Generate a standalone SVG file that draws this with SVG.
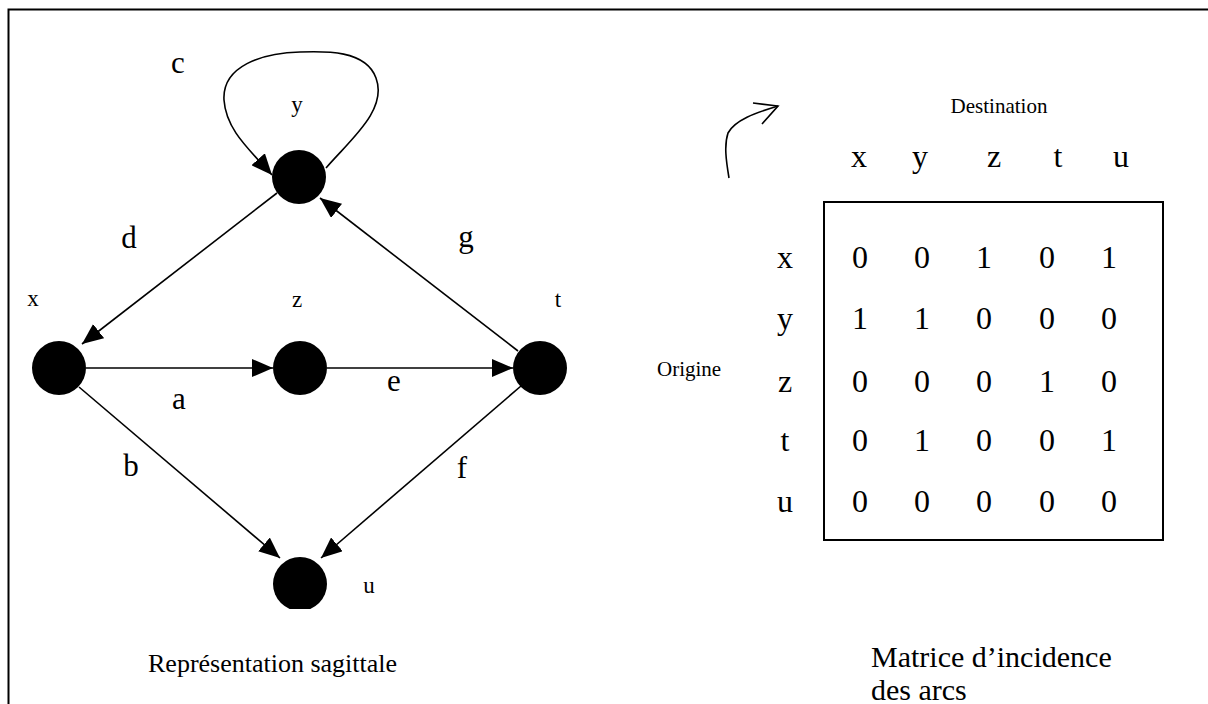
<svg xmlns="http://www.w3.org/2000/svg" width="1208" height="704" viewBox="0 0 1208 704">
<style>
text{font-family:"Liberation Serif","Times New Roman",serif;fill:#000}
.lbl{font-size:31px}
.nl{font-size:23px}
.sm{font-size:21px}
.mx{font-size:32px}
.edge{stroke:#000;stroke-width:1.6;fill:none}
.node{fill:#000}
</style>
<defs>
<marker id="ah" viewBox="0 0 21 18" refX="21" refY="9" markerWidth="21" markerHeight="18" markerUnits="userSpaceOnUse" orient="auto">
<path d="M0,0 L21,9 L0,18 z" fill="#000"/>
</marker>
<clipPath id="clipu"><rect x="0" y="0" width="1208" height="609"/></clipPath>
</defs>
<rect x="8.5" y="9.5" width="1220" height="720" fill="#fff" stroke="#000" stroke-width="2"/>
<g id="connectors">
<line class="edge" x1="277" y1="193" x2="82" y2="344" marker-end="url(#ah)"/>
<line class="edge" x1="86" y1="368" x2="273" y2="368" marker-end="url(#ah)"/>
<line class="edge" x1="327" y1="368" x2="513" y2="368" marker-end="url(#ah)"/>
<line class="edge" x1="518" y1="351" x2="320" y2="198" marker-end="url(#ah)"/>
<line class="edge" x1="79" y1="387" x2="280" y2="558" marker-end="url(#ah)"/>
<line class="edge" x1="521" y1="386" x2="321" y2="558" marker-end="url(#ah)"/>
<path class="edge" d="M326,168 C350,140 388,110 376,78 C366,50 325,51 300,52 C262,53 222,66 224,100 C226,130 250,150 272,175" marker-end="url(#ah)"/>
</g>
<g id="node-y"><circle class="node" cx="299" cy="177" r="27"/><text class="nl" x="297" y="112" text-anchor="middle">y</text></g>
<g id="node-x"><circle class="node" cx="59" cy="368" r="27"/><text class="nl" x="33" y="306" text-anchor="middle">x</text></g>
<g id="node-z"><circle class="node" cx="300" cy="368" r="27"/><text class="nl" x="297" y="307" text-anchor="middle">z</text></g>
<g id="node-t"><circle class="node" cx="540" cy="368" r="27"/><text class="nl" x="558" y="307" text-anchor="middle">t</text></g>
<g id="node-u"><circle class="node" cx="300" cy="584" r="27" clip-path="url(#clipu)"/><text class="nl" x="369" y="593" text-anchor="middle">u</text></g>
<g id="edge-labels">
<text class="lbl" x="178" y="73" text-anchor="middle">c</text>
<text class="lbl" x="129" y="248" text-anchor="middle">d</text>
<text class="lbl" x="466" y="247" text-anchor="middle">g</text>
<text class="lbl" x="179" y="409" text-anchor="middle">a</text>
<text class="lbl" x="394" y="391" text-anchor="middle">e</text>
<text class="lbl" x="131" y="476" text-anchor="middle">b</text>
<text class="lbl" x="462" y="478" text-anchor="middle">f</text>
</g>
<text x="148" y="672" style="font-size:26px">Représentation sagittale</text>
<g id="curved-arrow">
<path class="edge" d="M729,178 C726,160 724,145 728,133 C735,120 755,113 778,106"/>
<path class="edge" d="M753,103 L778,106 L762,124"/>
</g>
<text class="sm" x="999" y="113" text-anchor="middle">Destination</text>
<text class="sm" x="657" y="376">Origine</text>
<g id="matrix">
<rect x="824" y="202" width="339" height="338" fill="none" stroke="#000" stroke-width="2"/>
<g class="mx" text-anchor="middle">
<text x="859" y="167">x</text><text x="920" y="167">y</text><text x="994" y="167">z</text><text x="1058" y="167">t</text><text x="1121" y="167">u</text>
<text x="785" y="268">x</text><text x="785" y="329">y</text><text x="785" y="392">z</text><text x="785" y="451">t</text><text x="785" y="512">u</text>
<text x="860" y="268">0</text><text x="922" y="268">0</text><text x="984" y="268">1</text><text x="1047" y="268">0</text><text x="1109" y="268">1</text>
<text x="860" y="329">1</text><text x="922" y="329">1</text><text x="984" y="329">0</text><text x="1047" y="329">0</text><text x="1109" y="329">0</text>
<text x="860" y="392">0</text><text x="922" y="392">0</text><text x="984" y="392">0</text><text x="1047" y="392">1</text><text x="1109" y="392">0</text>
<text x="860" y="451">0</text><text x="922" y="451">1</text><text x="984" y="451">0</text><text x="1047" y="451">0</text><text x="1109" y="451">1</text>
<text x="860" y="512">0</text><text x="922" y="512">0</text><text x="984" y="512">0</text><text x="1047" y="512">0</text><text x="1109" y="512">0</text>
</g>
</g>
<text x="871" y="667" style="font-size:30px">Matrice d’incidence</text>
<text x="871" y="700" style="font-size:30px">des arcs</text>
</svg>
